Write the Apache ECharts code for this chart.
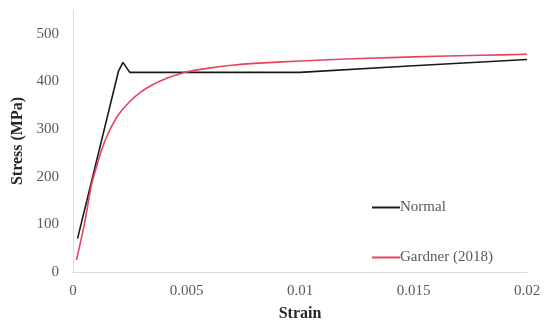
<!DOCTYPE html>
<html>
<head>
    <meta charset="utf-8">
    <title>Stress-strain</title>
    <script src="https://cdn.jsdelivr.net/npm/echarts@6/dist/echarts.min.js"></script>
    <style>
        html, body { margin: 0; padding: 0; background: #fff; }
        #main { width: 547px; height: 327px; }
    </style>
</head>
<body>
<div id="main"></div>
<script>
    // 数据
    var normalStrain = [0.0002, 0.002, 0.0022, 0.0025, 0.01, 0.015, 0.02];
    var normalStress = [70, 421, 440, 419, 419, 433, 446];

    var gardnerStrain = [0.00015, 0.0005, 0.0008, 0.001, 0.0013, 0.0016, 0.002, 0.0025, 0.003, 0.0035, 0.004, 0.0045, 0.005, 0.006, 0.007, 0.008, 0.01, 0.012, 0.014, 0.016, 0.018, 0.02];
    var gardnerStress = [25, 100, 180, 215, 262, 296, 330, 358, 378, 393, 404, 413, 420, 428, 434, 438, 443, 447, 450, 453, 455, 457];

    var seriesNames = ['Normal', 'Gardner (2018)'];

    function pairs(xs, ys) {
        var out = [];
        for (var i = 0; i < xs.length; i++) out.push([xs[i], ys[i]]);
        return out;
    }

    var chart = echarts.init(document.getElementById('main'));
    var font = '"Liberation Serif", "Times New Roman", serif';

    function legendAt(name, top) {
        return {
            left: 372,
            top: top,
            padding: 0,
            itemWidth: 28,
            itemHeight: 2,
            icon: 'rect',
            data: [name],
            textStyle: {fontFamily: font, fontSize: 15, color: '#595959', padding: [0, 0, 0, -5]}
        };
    }

    chart.setOption({
        animation: false,
        textStyle: {fontFamily: font},
        grid: {left: 73, right: 20, top: 10, bottom: 52},
        legend: [legendAt(seriesNames[0], 200), legendAt(seriesNames[1], 250)],
        xAxis: {
            type: 'value',
            min: 0,
            max: 0.02,
            interval: 0.005,
            name: 'Strain',
            nameLocation: 'middle',
            nameGap: 34,
            nameTextStyle: {fontFamily: font, fontSize: 16, fontWeight: 'bold', color: '#262626'},
            axisLine: {show: true, lineStyle: {color: '#d9d9d9'}},
            axisTick: {show: false},
            splitLine: {show: false},
            axisLabel: {fontFamily: font, fontSize: 15, color: '#595959', margin: 12}
        },
        yAxis: {
            type: 'value',
            min: 0,
            max: 550,
            interval: 100,
            name: 'Stress (MPa)',
            nameLocation: 'middle',
            nameGap: 43,
            nameTextStyle: {fontFamily: font, fontSize: 16, fontWeight: 'bold', color: '#262626'},
            axisLine: {show: true, lineStyle: {color: '#d9d9d9'}},
            axisTick: {show: false},
            splitLine: {show: false},
            axisLabel: {fontFamily: font, fontSize: 15, color: '#595959', margin: 14, showMaxLabel: false}
        },
        series: [
            {
                name: seriesNames[0],
                type: 'line',
                data: pairs(normalStrain, normalStress),
                showSymbol: false,
                lineStyle: {color: '#1a1a1a', width: 1.6},
                itemStyle: {color: '#1a1a1a'}
            },
            {
                name: seriesNames[1],
                type: 'line',
                data: pairs(gardnerStrain, gardnerStress),
                showSymbol: false,
                smooth: 0.3,
                lineStyle: {color: '#e8435e', width: 1.6},
                itemStyle: {color: '#e8435e'}
            }
        ]
    });
</script>
</body>
</html>
